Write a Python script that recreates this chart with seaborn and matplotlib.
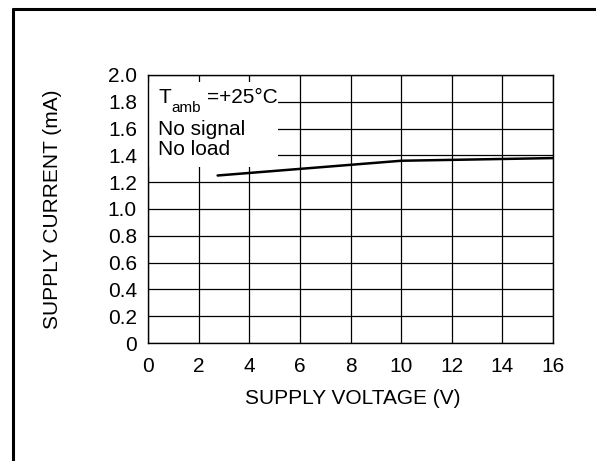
import matplotlib
matplotlib.use("Agg")
import matplotlib.pyplot as plt
import seaborn as sns
import numpy as np
from matplotlib.patches import Rectangle
from matplotlib.lines import Line2D

# Data
voltage = [2.75, 10.0, 16.0]
current = [1.25, 1.36, 1.38]
x_ticks = [0, 2, 4, 6, 8, 10, 12, 14, 16]
y_ticks = [0, 0.2, 0.4, 0.6, 0.8, 1.0, 1.2, 1.4, 1.6, 1.8, 2.0]
y_tick_labels = ["0", "0.2", "0.4", "0.6", "0.8", "1.0", "1.2", "1.4", "1.6", "1.8", "2.0"]
x_label = "SUPPLY VOLTAGE (V)"
y_label = "SUPPLY CURRENT (mA)"
notes = ["No signal", "No load"]

sns.set_style("white")
plt.rcParams['font.family'] = ['Liberation Sans', 'DejaVu Sans']
plt.rcParams['text.color'] = 'black'
plt.rcParams['axes.labelcolor'] = 'black'
plt.rcParams['xtick.color'] = 'black'
plt.rcParams['ytick.color'] = 'black'

FS = 15

fig = plt.figure(figsize=(5.96, 4.61), dpi=100)
ax = fig.add_axes([148/596, 1-343/461, 405/596, 268/461])

sns.lineplot(x=voltage, y=current, ax=ax, color='black', linewidth=1.8, zorder=3)

ax.set_xlim(0, 16)
ax.set_ylim(0, 2.0)
ax.set_xticks(x_ticks)
ax.set_xticklabels([str(t) for t in x_ticks])
ax.set_yticks(y_ticks)
ax.set_yticklabels(y_tick_labels)
ax.set_axisbelow(True)
ax.grid(True, color='black', linewidth=0.9)
ax.tick_params(axis='both', labelsize=FS, length=0, colors='black')
ax.tick_params(axis='x', pad=10)
ax.tick_params(axis='y', pad=8)
for s in ax.spines.values():
    s.set_color('black')
    s.set_linewidth(1.0)
    s.set_zorder(4)

ax.set_xlabel(x_label, fontsize=FS, color='black')
ax.set_ylabel(y_label, fontsize=FS, color='black')
ax.xaxis.set_label_coords(0.506, -0.172)
ax.yaxis.set_label_coords(-0.212, 0.5)

# annotation box
ax.add_patch(Rectangle((0.03, 1.31), 5.1, 0.64, facecolor='white', edgecolor='none', zorder=2))
ax.text(0.4, 1.79, "T", fontsize=FS, va='baseline', ha='left', zorder=3)
ax.text(0.92, 1.726, "amb", fontsize=11, va='baseline', ha='left', zorder=3)
ax.text(2.32, 1.79, "=+25°C", fontsize=FS, va='baseline', ha='left', zorder=3)
ax.text(0.4, 1.552, notes[0], fontsize=FS, va='baseline', ha='left', zorder=3)
ax.text(0.4, 1.403, notes[1], fontsize=FS, va='baseline', ha='left', zorder=3)

# outer frame (left and top)
fx = 13/596
fy = 1 - 9/461
fig.add_artist(Line2D([fx, fx], [0, fy], color='black', linewidth=2.2, transform=fig.transFigure))
fig.add_artist(Line2D([fx, 1], [fy, fy], color='black', linewidth=2.2, transform=fig.transFigure))

fig.savefig("out.png", dpi=100)
